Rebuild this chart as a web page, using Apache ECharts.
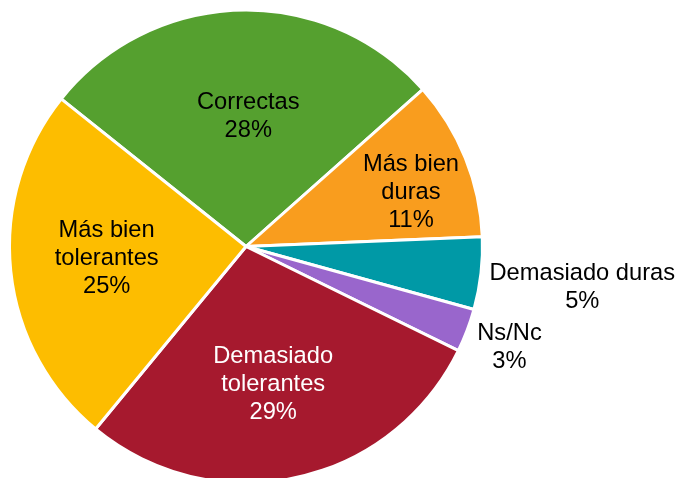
<!DOCTYPE html>
<html>
<head>
<meta charset="utf-8">
<script src="https://cdn.jsdelivr.net/npm/echarts@6/dist/echarts.min.js"></script>
<style>
  html, body { margin: 0; padding: 0; background: #fff; }
  #chart { width: 680px; height: 478px; }
</style>
</head>
<body>
<div id="chart"></div>
<script>
// Slice names and their shares (%), clockwise from the top-left
const categories = ['Correctas', 'Más bien duras', 'Demasiado duras', 'Ns/Nc', 'Demasiado tolerantes', 'Más bien tolerantes'];
const values = [28, 11, 5, 3, 29, 25];
// Label text with line breaks
const labelNames = ['Correctas', 'Más bien\nduras', 'Demasiado duras', 'Ns/Nc', 'Demasiado\ntolerantes', 'Más bien\ntolerantes'];

// Styling
const sliceColors = ['#55a02f', '#f99d1e', '#0099a6', '#9966cc', '#a6192e', '#fdbd00'];
const labelColors = ['#000', '#000', '#000', '#000', '#fff', '#000'];
// Label placement: distance from the centre (fraction of the radius)
// and a small turn (degrees, clockwise) away from the slice's mid-angle
const labelReach = [0.556, 0.736, 1.432, 1.192, 0.592, 0.591];
const labelTurn = [2.5, 3.4, 0.3, 0.05, 1.0, 1.45];

const CX = 246, CY = 246.5, R = 236.5;

const chart = echarts.init(document.getElementById('chart'), null, { renderer: 'canvas' });

const data = categories.map((name, i) => ({
  name: name,
  value: values[i],
  itemStyle: { color: sliceColors[i] },
  label: { color: labelColors[i] }
}));

chart.setOption({
  animation: false,
  backgroundColor: '#fff',
  series: [{
    type: 'pie',
    center: [CX, CY],
    radius: [0, R],
    startAngle: 141.4,
    clockwise: true,
    avoidLabelOverlap: false,
    data: data,
    itemStyle: { borderColor: '#fff', borderWidth: 3 },
    label: {
      show: true,
      position: 'inside',
      fontFamily: '"Liberation Sans", Arial, Helvetica, sans-serif',
      fontSize: 23.7,
      lineHeight: 28,
      align: 'center',
      formatter: p => labelNames[p.dataIndex] + '\n' + p.value + '%'
    },
    labelLine: { show: false },
    emphasis: { disabled: true },
    // Place each label along its slice's direction (the default inside
    // position gives that direction), at the chosen distance.
    labelLayout: function (params) {
      const i = params.dataIndex;
      const r = params.labelRect;
      const mx = r.x + r.width / 2 - CX;
      const my = r.y + r.height / 2 - CY;
      const theta = Math.atan2(mx, -my) + labelTurn[i] * Math.PI / 180;
      const d = labelReach[i] * R;
      return {
        x: CX + d * Math.sin(theta),
        y: CY - d * Math.cos(theta) + 1,
        align: 'center',
        verticalAlign: 'middle'
      };
    }
  }]
});
</script>
</body>
</html>
